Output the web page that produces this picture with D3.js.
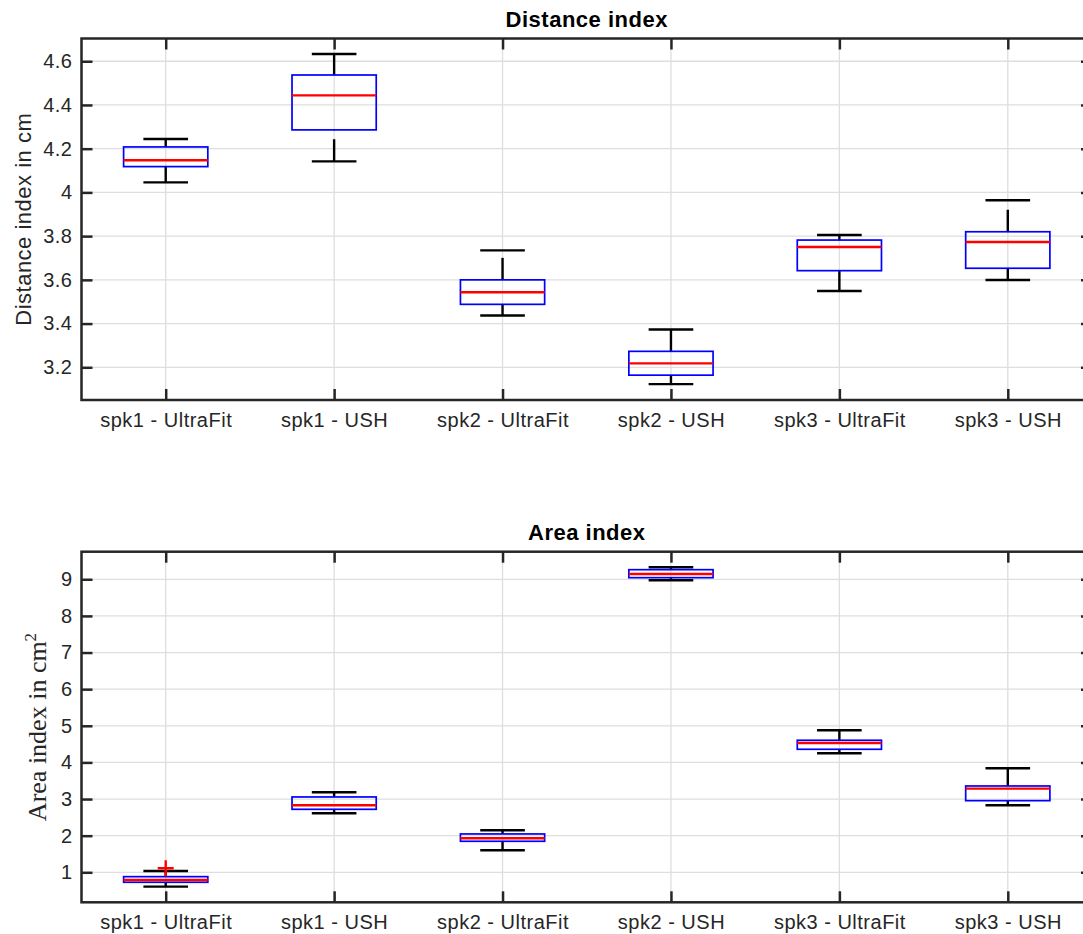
<!DOCTYPE html>
<html>
<head>
<meta charset="utf-8">
<script src="https://cdn.jsdelivr.net/npm/d3@7"></script>
<style>
  html, body { margin: 0; padding: 0; background: #fff; overflow: hidden; }
  svg { display: block; }
  text { font-family: "Liberation Sans", Helvetica, Arial, sans-serif; fill: #262626; }
</style>
</head>
<body>
<svg id="chart" width="1083" height="934"></svg>
<script>
// categories shared by both panels
var categories = ["spk1 - UltraFit", "spk1 - USH", "spk2 - UltraFit", "spk2 - USH", "spk3 - UltraFit", "spk3 - USH"];

// Distance index (cm)
var distLow = [4.046, 4.142, 3.437, 3.123, 3.549, 3.599];
var distQ1  = [4.118, 4.286, 3.488, 3.164, 3.642, 3.653];
var distMed = [4.147, 4.444, 3.543, 3.218, 3.750, 3.773];
var distQ3  = [4.208, 4.537, 3.600, 3.273, 3.782, 3.820];
var distUp  = [4.244, 4.633, 3.735, 3.373, 3.805, 3.964];
var distOutliers = [];
var distTicks = [3.2, 3.4, 3.6, 3.8, 4, 4.2, 4.4, 4.6];
var distTickLabels = ["3.2", "3.4", "3.6", "3.8", "4", "4.2", "4.4", "4.6"];

// Area index (cm^2)
var areaLow = [0.608, 2.612, 1.602, 8.973, 4.250, 2.830];
var areaQ1  = [0.728, 2.720, 1.847, 9.044, 4.359, 2.956];
var areaMed = [0.791, 2.830, 1.929, 9.145, 4.531, 3.284];
var areaQ3  = [0.881, 3.057, 2.047, 9.262, 4.605, 3.357];
var areaUp  = [1.037, 3.185, 2.148, 9.328, 4.878, 3.840];
var areaOutliers = [{cat: 0, value: 1.11}];
var areaTicks = [1, 2, 3, 4, 5, 6, 7, 8, 9];
var areaTickLabels = ["1", "2", "3", "4", "5", "6", "7", "8", "9"];

var svg = d3.select("#chart");
var axisColor = "#262626";

function drawPanel(o){
	var g = svg.append("g");
	var x = d3.scaleLinear().domain([0.5, categories.length + 0.5]).range([o.left, o.right]);
	var y = d3.scaleLinear().domain(o.yDomain).range([o.bottom, o.top]);

	// grid
	g.append("g").selectAll("line").data(o.ticks).enter().append("line")
		.attr("x1", o.left).attr("x2", o.right)
		.attr("y1", function(d){ return y(d); }).attr("y2", function(d){ return y(d); })
		.attr("stroke", "#dedede").attr("stroke-width", 1.3);
	g.append("g").selectAll("line").data(categories).enter().append("line")
		.attr("x1", function(d,i){ return x(i+1); }).attr("x2", function(d,i){ return x(i+1); })
		.attr("y1", o.top).attr("y2", o.bottom)
		.attr("stroke", "#dedede").attr("stroke-width", 1.3);

	// axes with inward ticks
	var left = g.append("g").attr("transform", "translate(" + o.left + ",0)")
		.call(d3.axisLeft(y).tickValues(o.ticks).tickFormat(function(d,i){ return o.tickLabels[i]; })
			.tickSizeInner(-11).tickSizeOuter(0).tickPadding(9));
	var right = g.append("g").attr("transform", "translate(" + o.right + ",0)")
		.call(d3.axisRight(y).tickValues(o.ticks).tickFormat("").tickSizeInner(-11).tickSizeOuter(0));
	var bottom = g.append("g").attr("transform", "translate(0," + o.bottom + ")")
		.call(d3.axisBottom(x).tickValues(d3.range(1, categories.length + 1))
			.tickFormat(function(d){ return categories[d-1]; })
			.tickSizeInner(-11).tickSizeOuter(0).tickPadding(12.5));
	var top = g.append("g").attr("transform", "translate(0," + o.top + ")")
		.call(d3.axisTop(x).tickValues(d3.range(1, categories.length + 1)).tickFormat("")
			.tickSizeInner(-11).tickSizeOuter(0));
	[left, right, bottom, top].forEach(function(a){
		a.select(".domain").remove();
		a.selectAll(".tick line").attr("stroke", axisColor).attr("stroke-width", 2.5);
		a.selectAll(".tick text").attr("font-size", 20).attr("fill", axisColor)
			.style("letter-spacing", "0.5px");
	});

	// boxes
	var bw = 0.5, cw = 0.265;
	var boxes = g.append("g").selectAll("g").data(categories).enter().append("g");
	boxes.append("line")
		.attr("x1", function(d,i){ return x(i+1); }).attr("x2", function(d,i){ return x(i+1); })
		.attr("y1", function(d,i){ return y(o.q3[i]); }).attr("y2", function(d,i){ return y(o.up[i]); })
		.attr("stroke", "#000").attr("stroke-width", 2.4).attr("stroke-dasharray", "22,9");
	boxes.append("line")
		.attr("x1", function(d,i){ return x(i+1); }).attr("x2", function(d,i){ return x(i+1); })
		.attr("y1", function(d,i){ return y(o.low[i]); }).attr("y2", function(d,i){ return y(o.q1[i]); })
		.attr("stroke", "#000").attr("stroke-width", 2.4).attr("stroke-dasharray", "22,9");
	[o.up, o.low].forEach(function(arr){
		boxes.append("line")
			.attr("x1", function(d,i){ return x(i+1-cw/2); }).attr("x2", function(d,i){ return x(i+1+cw/2); })
			.attr("y1", function(d,i){ return y(arr[i]); }).attr("y2", function(d,i){ return y(arr[i]); })
			.attr("stroke", "#000").attr("stroke-width", 2.4);
	});
	boxes.append("rect")
		.attr("x", function(d,i){ return x(i+1-bw/2); })
		.attr("width", function(d,i){ return x(i+1+bw/2) - x(i+1-bw/2); })
		.attr("y", function(d,i){ return y(o.q3[i]); })
		.attr("height", function(d,i){ return y(o.q1[i]) - y(o.q3[i]); })
		.attr("fill", "none").attr("stroke", "#0000ff").attr("stroke-width", 1.7);
	boxes.append("line")
		.attr("x1", function(d,i){ return x(i+1-bw/2); }).attr("x2", function(d,i){ return x(i+1+bw/2); })
		.attr("y1", function(d,i){ return y(o.med[i]); }).attr("y2", function(d,i){ return y(o.med[i]); })
		.attr("stroke", "#ff0000").attr("stroke-width", 2.4);

	// outliers as red '+'
	g.append("g").selectAll("path").data(o.outliers).enter().append("path")
		.attr("d", function(d){
			var cx = x(d.cat+1), cy = y(d.value), s = 8;
			return "M" + (cx-s) + "," + cy + "H" + (cx+s) + "M" + cx + "," + (cy-s) + "V" + (cy+s);
		})
		.attr("stroke", "#ff0000").attr("stroke-width", 2.4).attr("fill", "none");

	// frame
	g.append("rect")
		.attr("x", o.left).attr("y", o.top)
		.attr("width", o.right - o.left).attr("height", o.bottom - o.top)
		.attr("fill", "none").attr("stroke", axisColor).attr("stroke-width", 2.5);

	// title
	g.append("text")
		.attr("x", (o.left + o.right) / 2).attr("y", o.top - 12)
		.attr("text-anchor", "middle").attr("font-size", 22).attr("font-weight", "bold")
		.style("fill", "#000").style("letter-spacing", "0.5px")
		.text(o.title);

	// y label
	var yl = g.append("text")
		.attr("transform", "translate(" + o.labelX + "," + ((o.top + o.bottom) / 2) + ") rotate(-90)")
		.attr("text-anchor", "middle");
	if(o.serifLabel){
		yl.style("font-family", "'Liberation Serif', 'Times New Roman', serif").attr("font-size", 26);
		yl.append("tspan").text(o.yLabel);
		yl.append("tspan").attr("font-size", 17).attr("dy", -10).text("2");
	}else{
		yl.attr("font-size", 22).style("letter-spacing", "0.5px").text(o.yLabel);
	}
}

drawPanel({
	left: 81.5, right: 1092, top: 38.5, bottom: 400,
	yDomain: [3.0504, 4.704],
	ticks: distTicks, tickLabels: distTickLabels,
	low: distLow, q1: distQ1, med: distMed, q3: distQ3, up: distUp, outliers: distOutliers,
	title: "Distance index", yLabel: "Distance index in cm", labelX: 31
});

drawPanel({
	left: 81.5, right: 1092, top: 551.7, bottom: 902.3,
	yDomain: [0.181, 9.753],
	ticks: areaTicks, tickLabels: areaTickLabels,
	low: areaLow, q1: areaQ1, med: areaMed, q3: areaQ3, up: areaUp, outliers: areaOutliers,
	title: "Area index", yLabel: "Area index in cm", labelX: 46, serifLabel: true
});
</script>
</body>
</html>
